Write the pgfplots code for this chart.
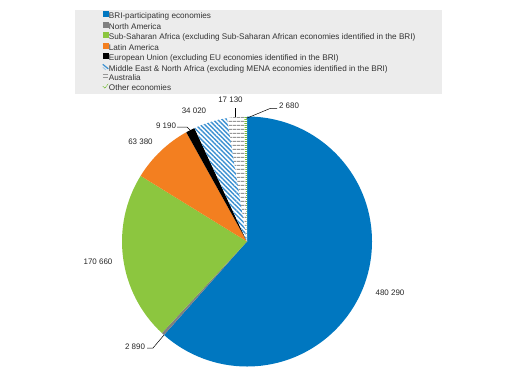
\documentclass[border=0pt]{standalone}
\usepackage{fontspec}
\setmainfont{Liberation Sans}
\usepackage{pgfplots}
\pgfplotsset{compat=1.18}
\usepackage{pgfplotstable}
\usetikzlibrary{patterns.meta}

\definecolor{bri}{RGB}{0,119,192}
\definecolor{nagray}{RGB}{128,128,128}
\definecolor{ssa}{RGB}{140,198,63}
\definecolor{latam}{RGB}{243,127,32}
\definecolor{mena}{RGB}{60,145,210}
\definecolor{ausgray}{RGB}{150,150,150}
\definecolor{othgreen}{RGB}{120,190,60}
\definecolor{legbg}{RGB}{236,236,236}

\pgfplotstableread{
value
480290
2890
170660
63380
9190
34020
17130
2680
}\piedata

\newcommand\slice[3]{%
  \fill[#3] (axis cs:247,135.5) -- ++(\csname ang#1\endcsname:125bp)
    arc[start angle=\csname ang#1\endcsname, end angle=\csname ang#2\endcsname, radius=125bp] -- cycle;}

\begin{document}
\begin{tikzpicture}
\def\tot{0}
\pgfplotsforeachungrouped \i in {0,...,7}{%
  \pgfplotstablegetelem{\i}{value}\of\piedata
  \edef\tot{\fpeval{\tot+\pgfplotsretval}}}
\def\cum{90}
\expandafter\xdef\csname ang0\endcsname{90}
\pgfplotsforeachungrouped \i in {0,...,7}{%
  \pgfplotstablegetelem{\i}{value}\of\piedata
  \edef\cum{\fpeval{round(\cum-360*\pgfplotsretval/\tot,4)}}%
  \pgfmathtruncatemacro\j{\i+1}%
  \expandafter\xdef\csname ang\j\endcsname{\cum}}
\begin{axis}[
  x=1bp, y=1bp, xmin=0, xmax=529, ymin=0, ymax=377,
  hide axis, clip=false,
  legend cell align=left,
  legend style={at={(0.14178,0.97347)}, anchor=north west, fill=legbg, draw=none,
    inner xsep=27bp, inner ysep=0.8bp, font=\fontsize{8.2}{8.5}\selectfont, text=black!80,
    row sep=0.6bp, nodes={inner sep=0bp, text height=6.3bp, text depth=2.2bp},
    /tikz/every even column/.append style={column sep=1.5bp}},
]
\path (axis cs:0,0) rectangle (axis cs:529,377);
\slice{0}{1}{bri}
\slice{1}{2}{nagray}
\slice{2}{3}{ssa}
\slice{3}{4}{latam}
\slice{4}{5}{black}
\slice{5}{6}{preaction={fill=white}, pattern={Lines[angle=-45,distance=3.2bp,line width=1.4bp]}, pattern color=mena}
\slice{6}{7}{preaction={fill=white}, pattern={Lines[angle=0,distance=3.6bp,line width=0.9bp]}, pattern color=ausgray}
\slice{7}{8}{preaction={fill=white}, pattern={Lines[angle=0,distance=2bp,line width=0.9bp]}, pattern color=othgreen}

% labels and leader lines
\begin{scope}[font=\fontsize{8}{9}\selectfont, text=black!85]
\node at (axis cs:390,84) {480 290};
\node at (axis cs:135,30) {2 890};
\draw[black, line width=0.5bp] (axis cs:147,29) -- (axis cs:153,29) -- (axis cs:164,42);
\node at (axis cs:98,115) {170 660};
\node at (axis cs:140.5,235.3) {63 380};
\node at (axis cs:166,251) {9 190};
\draw[black, line width=0.5bp] (axis cs:177,250) -- (axis cs:187,250) -- (axis cs:192,245);
\node at (axis cs:194,266) {34 020};
\node at (axis cs:230.5,277) {17 130};
\draw[black, line width=0.5bp] (axis cs:235,269) -- (axis cs:235,260);
\node at (axis cs:289,271.3) {2 680};
\draw[black, line width=0.5bp] (axis cs:277,268.7) -- (axis cs:270,268.5) -- (axis cs:246.5,258.7);
\end{scope}

\addlegendimage{legend image code/.code={\fill[bri] (0bp,0.5bp) rectangle (5.5bp,5.5bp);}}
\addlegendentry{BRI-participating economies}
\addlegendimage{legend image code/.code={\fill[nagray] (0bp,0.5bp) rectangle (5.5bp,5.5bp);}}
\addlegendentry{North America}
\addlegendimage{legend image code/.code={\fill[ssa] (0bp,0.5bp) rectangle (5.5bp,5.5bp);}}
\addlegendentry{Sub-Saharan Africa (excluding Sub-Saharan African economies identified in the BRI)}
\addlegendimage{legend image code/.code={\fill[latam] (0bp,0.5bp) rectangle (5.5bp,5.5bp);}}
\addlegendentry{Latin America}
\addlegendimage{legend image code/.code={\fill[black] (0bp,0.5bp) rectangle (5.5bp,5.5bp);}}
\addlegendentry{European Union (excluding EU economies identified in the BRI)}
\addlegendimage{legend image code/.code={\draw[mena, line width=1.2bp] (0bp,5bp) -- (5.5bp,0.5bp); \draw[mena!50, line width=0.8bp] (0bp,2bp) -- (3bp,-0.5bp);}}
\addlegendentry{Middle East \& North Africa (excluding MENA economies identified in the BRI)}
\addlegendimage{legend image code/.code={\draw[ausgray, line width=0.7bp] (0bp,1.2bp) -- (5.5bp,1.2bp) (0bp,4bp) -- (5.5bp,4bp);}}
\addlegendentry{Australia}
\addlegendimage{legend image code/.code={\draw[othgreen, line width=0.7bp, dash pattern=on 1bp off 0.7bp] (0bp,2.5bp) -- (2bp,0.5bp) -- (5.5bp,5bp);}}
\addlegendentry{Other economies}
\end{axis}
\end{tikzpicture}
\end{document}
